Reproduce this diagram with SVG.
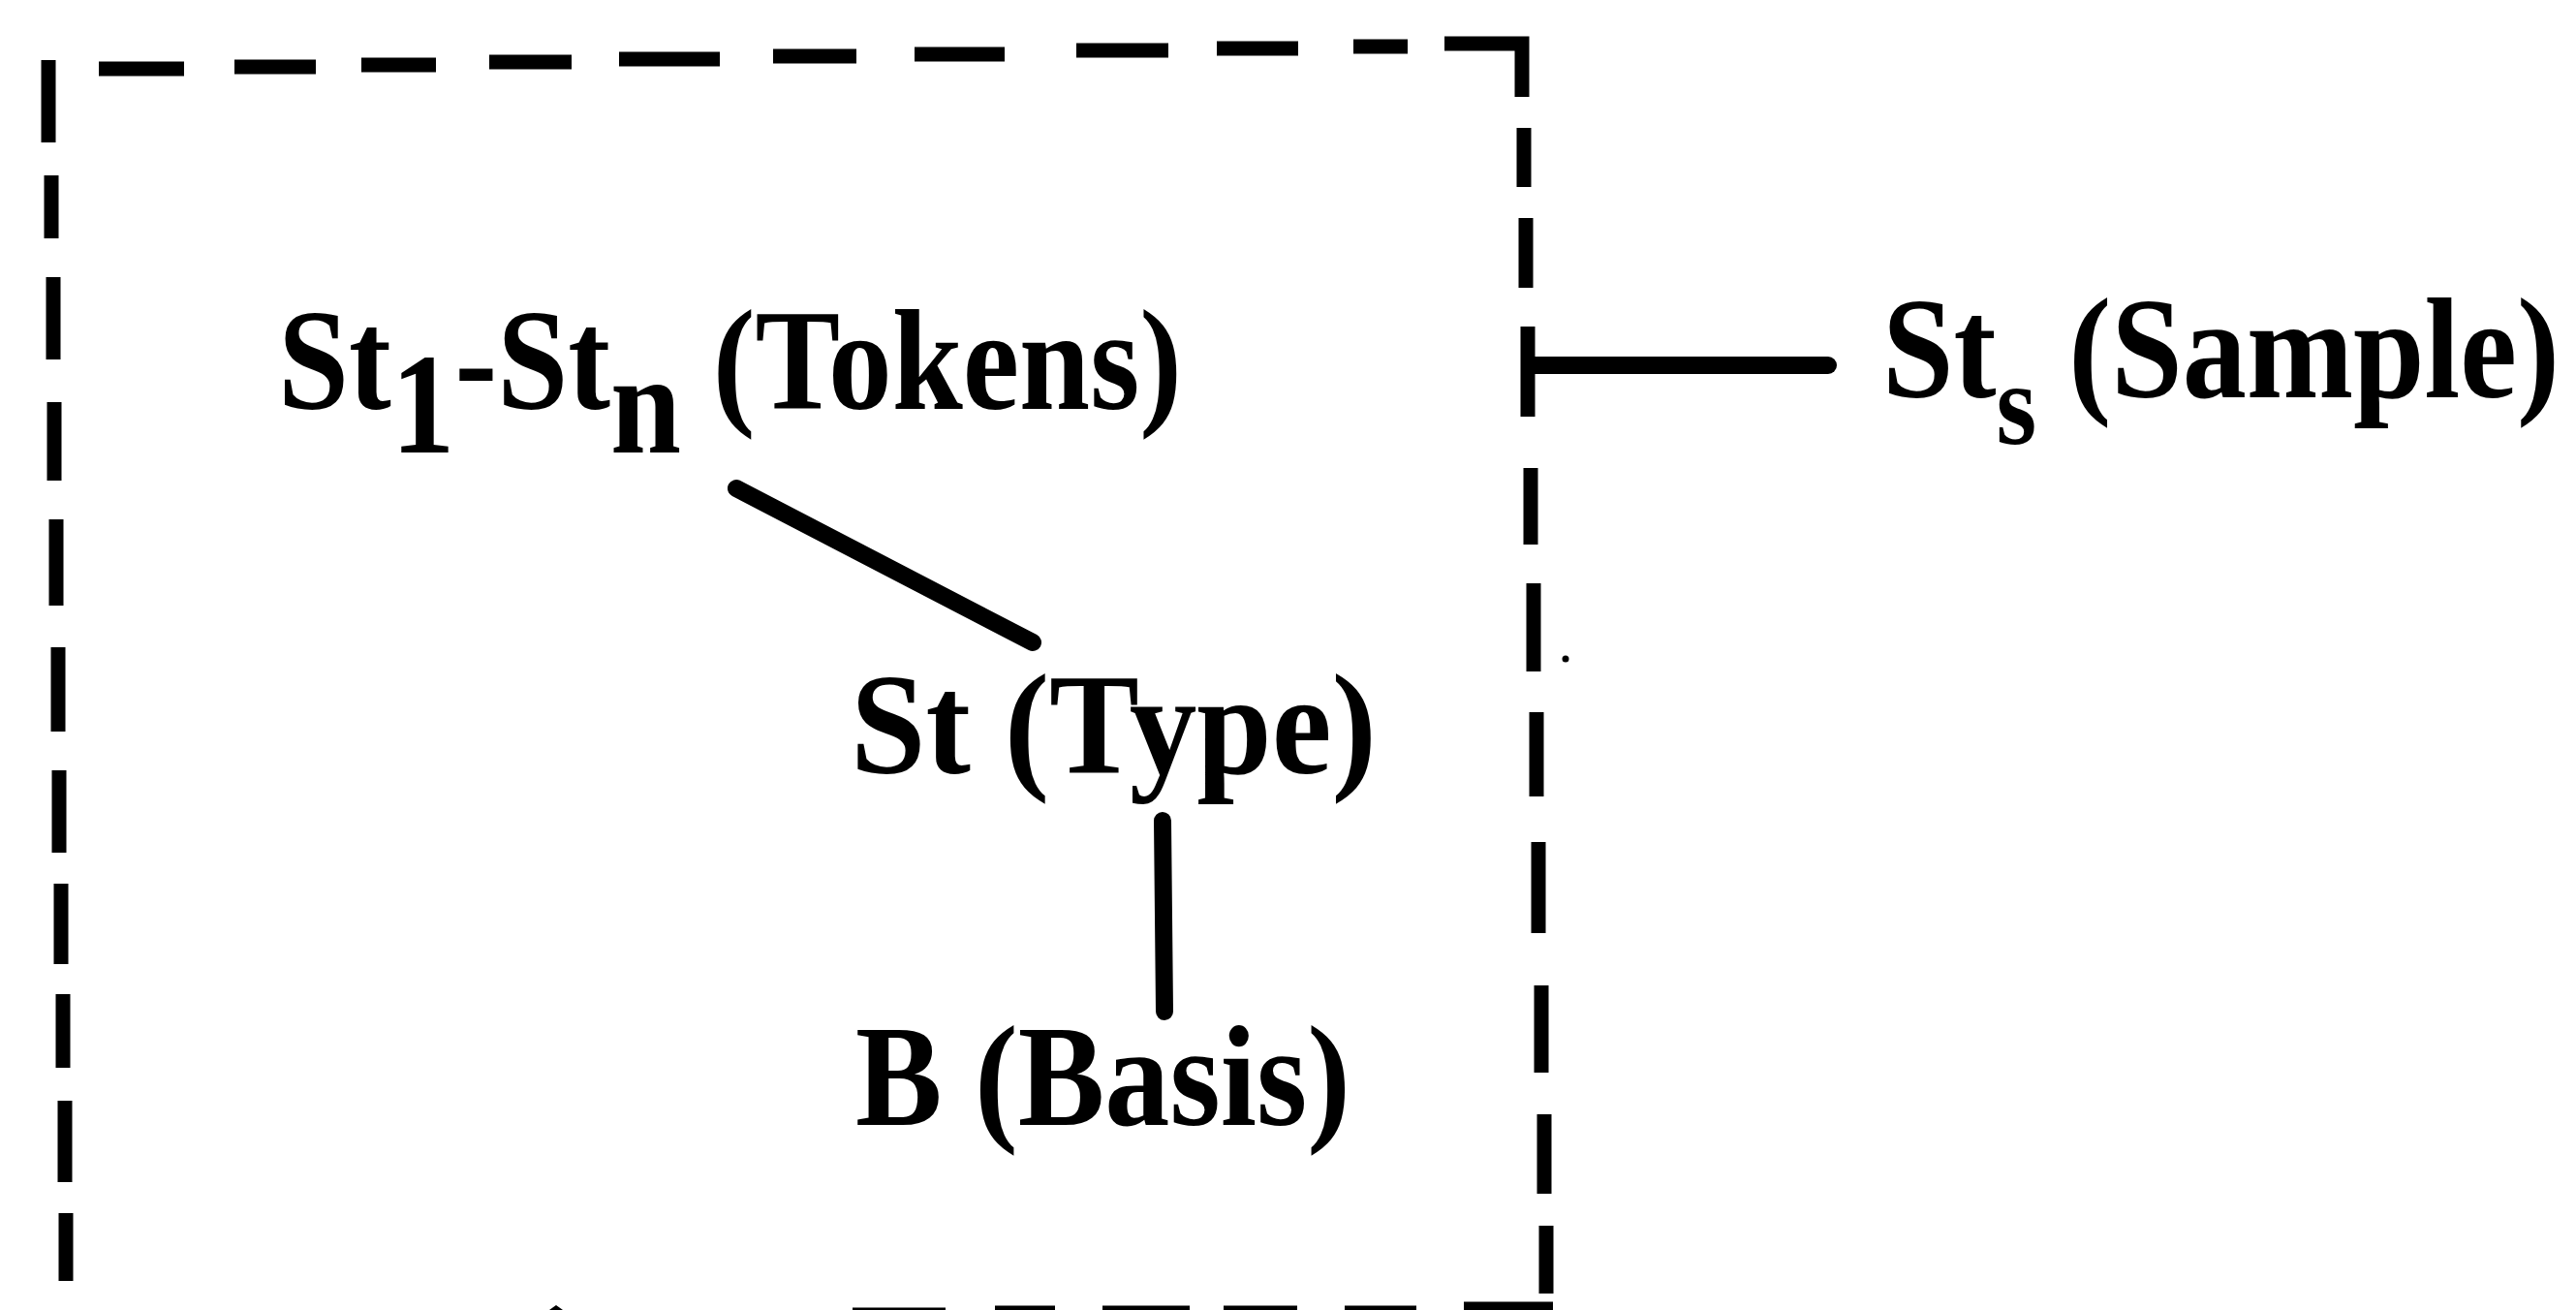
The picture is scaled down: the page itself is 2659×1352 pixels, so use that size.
<svg xmlns="http://www.w3.org/2000/svg" width="2659" height="1352" viewBox="0 0 2659 1352">
<style>
  .lbl { font-family: "Liberation Serif", "Times New Roman", serif; font-weight: bold; font-size: 148px; fill: #000; }
  .dash { fill: none; stroke: #000; stroke-width: 15; stroke-linecap: butt; }
  .conn { fill: none; stroke: #000; stroke-width: 18; stroke-linecap: round; }
</style>
<rect x="0" y="0" width="2659" height="1352" fill="#fff"/>
<g id="sample-boundary">
  <path class="dash" d="M102 71 L190 71 M242 69 L326 69 M373 67 L450 67 M505 64 L590 64 M639 61 L743 61 M798 58 L884 58 M944 56 L1037 56 M1111 52 L1206 52 M1256 50 L1340 50 M1397 48 L1453 48 M1491 45 L1571 45 L1571 100"/>
  <path class="dash" d="M1573 132 L1573 193 M1575 225 L1575 297 M1577 337 L1577 430 M1580 483 L1580 562 M1583 602 L1583 693 M1586 735 L1586 822 M1588 869 L1588 963 M1591 1017 L1591 1107 M1594 1150 L1594 1232 M1596 1265 L1596 1335"/>
  <path class="dash" d="M50 62 L50 147 M53 181 L53 246 M55 286 L55 371 M56 415 L56 496 M58 536 L58 625 M60 668 L60 755 M61 795 L61 880 M63 912 L63 995 M65 1026 L65 1102 M67 1136 L67 1220 M68 1252 L68 1322"/>
  <path class="dash" d="M880 1357 L976 1357 M1027 1355 L1089 1355 M1138 1355 L1228 1355 M1263 1355 L1339 1355 M1388 1355 L1462 1355 M1511 1351 L1603 1351"/>
  <path d="M567 1352 L574 1347 L581 1352 Z" fill="#000"/>
  <circle cx="1616" cy="680" r="3.5" fill="#000"/>
</g>
<g id="connectors">
  <line class="conn" x1="760" y1="504" x2="1066" y2="663"/>
  <line class="conn" x1="1200" y1="847" x2="1202" y2="1044"/>
  <line class="conn" x1="1580" y1="377" x2="1887" y2="377"/>
</g>
<g id="node-tokens">
  <text class="lbl" x="287" y="422" textLength="933" lengthAdjust="spacingAndGlyphs">St<tspan dy="45">1</tspan><tspan dy="-45">-St</tspan><tspan dy="45">n</tspan><tspan dy="-45"> (Tokens)</tspan></text>
</g>
<g id="node-type">
  <text class="lbl" x="878" y="798" textLength="543" lengthAdjust="spacingAndGlyphs">St (Type)</text>
</g>
<g id="node-basis">
  <text class="lbl" x="883" y="1161" font-size="140" textLength="511" lengthAdjust="spacingAndGlyphs">B (Basis)</text>
</g>
<g id="node-sample">
  <text class="lbl" x="1943" y="410" textLength="699" lengthAdjust="spacingAndGlyphs">St<tspan dy="48" font-size="120">s</tspan><tspan dy="-48"> (Sample)</tspan></text>
</g>
</svg>
